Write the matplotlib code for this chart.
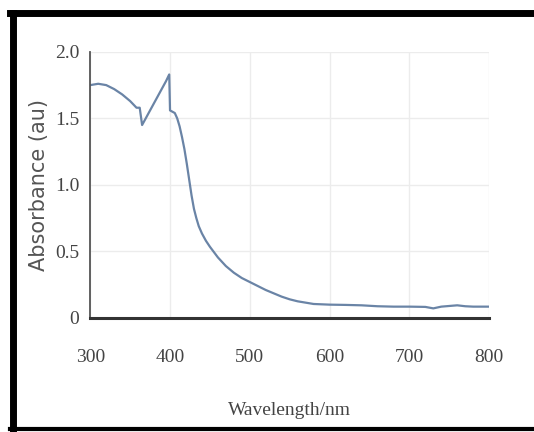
import numpy as np
import matplotlib
matplotlib.use("Agg")
import matplotlib.pyplot as plt
from matplotlib.lines import Line2D

# absorbance spectrum
wavelength = [300, 310, 320, 330, 340, 350, 358, 362, 365, 375, 385, 395, 399,
              400, 403, 406, 409, 412, 415, 418, 421, 424, 427, 430, 433, 436,
              440, 445, 450, 460, 470, 480, 490, 500, 510, 520, 530, 540, 550,
              560, 570, 580, 600, 620, 640, 660, 680, 700, 720, 730, 740, 760,
              770, 780, 800]
absorbance = [1.75, 1.76, 1.75, 1.72, 1.68, 1.63, 1.58, 1.58, 1.45, 1.56, 1.67,
              1.78, 1.83, 1.56, 1.55, 1.54, 1.50, 1.44, 1.36, 1.27, 1.16, 1.04,
              0.92, 0.82, 0.75, 0.69, 0.635, 0.58, 0.535, 0.455, 0.39, 0.34,
              0.30, 0.27, 0.24, 0.21, 0.185, 0.16, 0.14, 0.125, 0.115, 0.105,
              0.10, 0.098, 0.095, 0.088, 0.085, 0.085, 0.083, 0.072, 0.085,
              0.095, 0.088, 0.085, 0.085]

x_ticks = [300, 400, 500, 600, 700, 800]
y_ticks = [0, 0.5, 1.0, 1.5, 2.0]
y_ticklabels = ["0", "0.5", "1.0", "1.5", "2.0"]

fig = plt.figure(figsize=(5.34, 4.32), dpi=100)
ax = fig.add_axes([0.169, 0.264, 0.747, 0.616])

ax.plot(wavelength, absorbance, color="#6a84a6", lw=1.6)

ax.set_xlim(300, 800)
ax.set_ylim(0, 2.0)
ax.set_xticks(x_ticks)
ax.set_yticks(y_ticks)
ax.set_yticklabels(y_ticklabels)
ax.grid(True, color="#ececec", lw=1.0)
ax.set_axisbelow(True)

for s in ["top", "right"]:
    ax.spines[s].set_visible(False)
ax.spines["left"].set_color("#555555")
ax.spines["left"].set_linewidth(1.3)
ax.spines["bottom"].set_color("#333333")
ax.spines["bottom"].set_linewidth(2.2)

ax.tick_params(length=0, labelsize=14, labelcolor="#444444")
ax.tick_params(axis="x", pad=22)
ax.tick_params(axis="y", pad=8)
for lab in ax.get_xticklabels() + ax.get_yticklabels():
    lab.set_family("Liberation Serif")

ax.set_xlabel("Wavelength/nm", family="Liberation Serif", fontsize=14,
              color="#444444", labelpad=26)
ax.set_ylabel("Absorbance (au)", family="DejaVu Sans", fontsize=15,
              color="#555555", labelpad=4)

# black frame round the picture
fig.add_artist(Line2D([0.018, 1.0], [0.969, 0.969], transform=fig.transFigure,
                      color="black", lw=5))
fig.add_artist(Line2D([0.025, 0.025], [0.0, 0.969], transform=fig.transFigure,
                      color="black", lw=5))
fig.add_artist(Line2D([0.018, 1.0], [0.006, 0.006], transform=fig.transFigure,
                      color="black", lw=3))

fig.savefig("out.png", dpi=100)
